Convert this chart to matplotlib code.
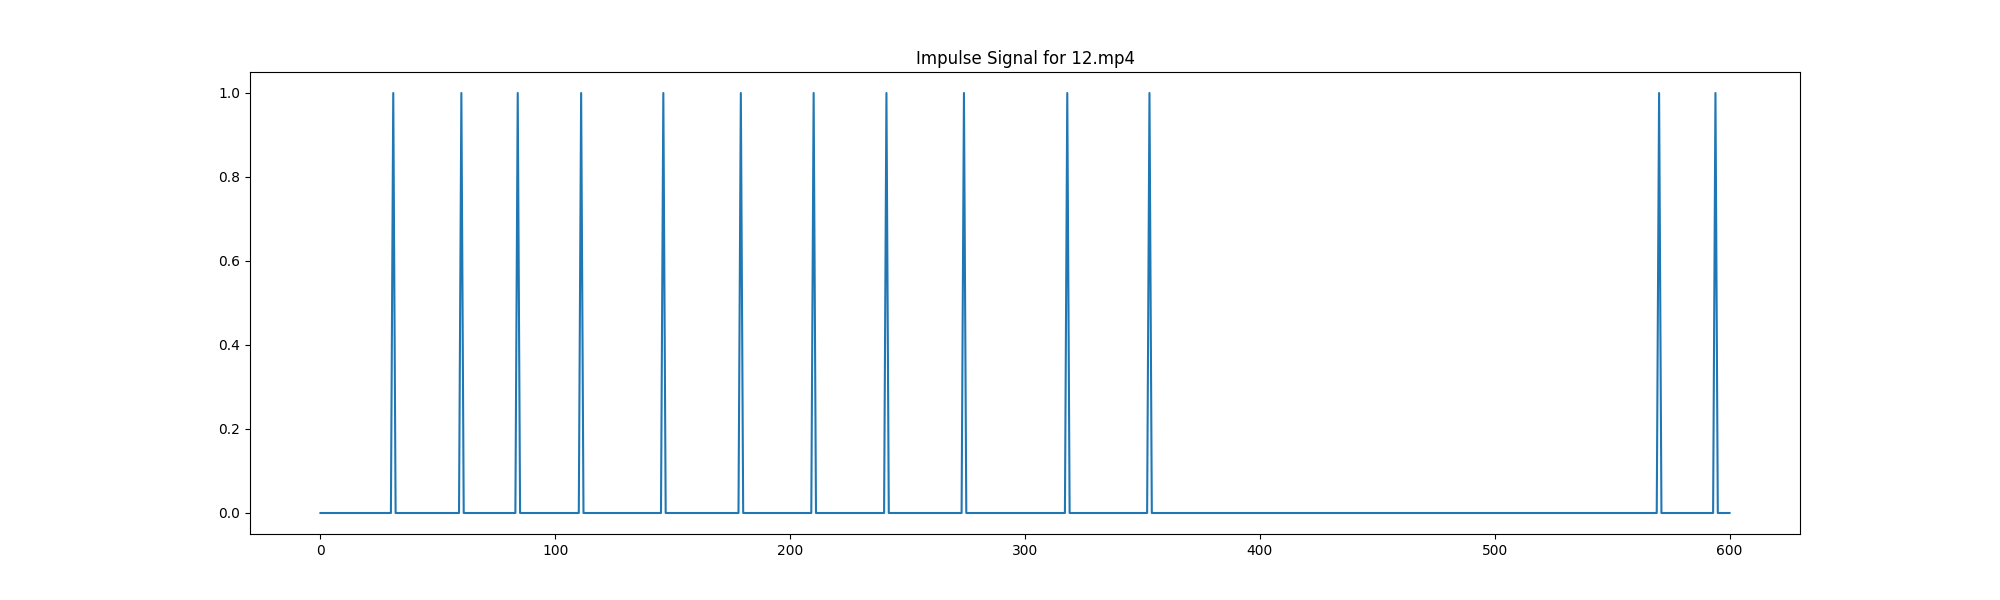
import numpy as np
import matplotlib
matplotlib.use('Agg')
import matplotlib.pyplot as plt

# -------------------------------
# Data
# -------------------------------
video_name = '12.mp4'
n_frames = 601
impulse_frames = [31, 60, 84, 111, 146, 179, 210, 241, 274, 318, 353, 570, 594]

signal = np.zeros(n_frames)
signal[impulse_frames] = 1.0

# -------------------------------
# Plot
# -------------------------------
plt.figure(figsize=(20, 6), dpi=100)
plt.plot(signal)
plt.title(f'Impulse Signal for {video_name}')
plt.savefig('out.png')
